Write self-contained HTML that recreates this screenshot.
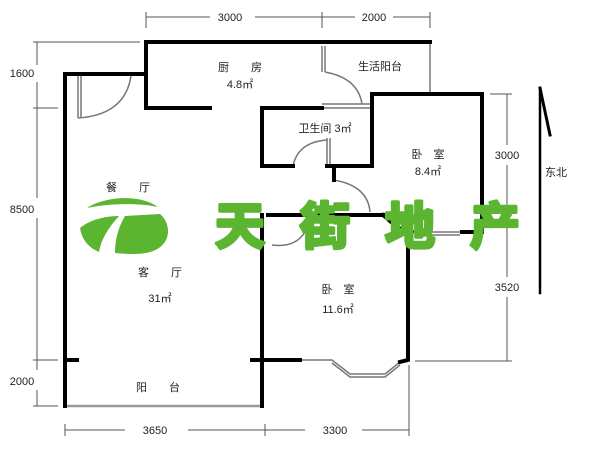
<!DOCTYPE html>
<html><head><meta charset="utf-8"><style>
html,body{margin:0;padding:0;background:#fff;width:600px;height:450px;overflow:hidden}
svg{display:block}
text{font-family:"Liberation Sans","Noto Sans CJK SC",sans-serif;fill:#222}
</style></head><body>
<svg width="600" height="450" viewBox="0 0 600 450" xmlns="http://www.w3.org/2000/svg">
<g stroke="#555" stroke-width="1" fill="none">
<line x1="146" y1="17" x2="210" y2="17"/><line x1="255" y1="17" x2="355" y2="17"/><line x1="393" y1="17" x2="430" y2="17"/>
<line x1="146" y1="12" x2="146" y2="28"/><line x1="322" y1="12" x2="322" y2="28"/><line x1="430" y1="12" x2="430" y2="28"/>
<line x1="37" y1="42" x2="37" y2="65"/><line x1="37" y1="82" x2="37" y2="198"/><line x1="37" y1="218" x2="37" y2="370"/><line x1="37" y1="390" x2="37" y2="406"/>
<line x1="33" y1="42" x2="140" y2="42"/><line x1="33" y1="108" x2="58" y2="108"/><line x1="33" y1="360" x2="58" y2="360"/><line x1="33" y1="406" x2="58" y2="406"/>
<line x1="507" y1="94" x2="507" y2="145"/><line x1="507" y1="165" x2="507" y2="277"/><line x1="507" y1="297" x2="507" y2="361"/>
<line x1="490" y1="94" x2="512" y2="94"/><line x1="415" y1="361" x2="512" y2="361"/>
<line x1="65" y1="430" x2="125" y2="430"/><line x1="188" y1="430" x2="305" y2="430"/><line x1="362" y1="430" x2="409" y2="430"/>
<line x1="65" y1="424" x2="65" y2="436"/><line x1="265" y1="424" x2="265" y2="436"/><line x1="409" y1="365" x2="409" y2="436"/>
</g>
<g fill="#444" font-size="11" text-anchor="middle">
<text x="230" y="21">3000</text><text x="374" y="21">2000</text>
<text x="22" y="77">1600</text><text x="22" y="213">8500</text><text x="22" y="385">2000</text>
<text x="507" y="159">3000</text><text x="507" y="291">3520</text>
<text x="155" y="434">3650</text><text x="335" y="434">3300</text>
</g>
<g stroke="#777" stroke-width="1.5" fill="none">
<line x1="430" y1="42" x2="430" y2="94"/><line x1="322" y1="46" x2="322" y2="72"/><line x1="325" y1="46" x2="325" y2="72"/>
<line x1="322" y1="104" x2="370" y2="104"/><line x1="322" y1="108" x2="370" y2="108"/>
<line x1="327" y1="138" x2="327" y2="166"/><line x1="330" y1="138" x2="330" y2="166"/>
<line x1="78" y1="76" x2="78" y2="118"/><line x1="81" y1="76" x2="81" y2="118"/>
<path d="M78,118 Q125,115 131,76"/><path d="M325,72 Q358,78 362,104"/><path d="M327,140 Q298,142 293,166"/>
<path d="M334,180 Q368,186 370,212"/><path d="M272,245 Q295,248 305,232"/>
<line x1="420" y1="232" x2="460" y2="232"/><line x1="420" y1="235" x2="460" y2="235"/>
<path d="M262,360 L332,360 L350,374 L385,374 L400,362"/><path d="M332,363 L350,377 L385,377 L400,365"/>
<line x1="65" y1="406" x2="262" y2="406" stroke="#999" stroke-width="2.5"/>
</g>
<g stroke="#000" stroke-width="4" fill="none" stroke-linecap="square">
<polyline points="65,406 65,74 145,74"/>
<polyline points="146,108 146,42 430,42"/>
<line x1="146" y1="108" x2="210" y2="108"/>
<polyline points="262,108 262,166 293,166"/>
<line x1="262" y1="108" x2="322" y2="108"/>
<polyline points="327,166 372,166 372,94 482,94 482,232 462,232"/>
<line x1="334" y1="166" x2="334" y2="180"/>
<line x1="268" y1="215" x2="383" y2="215"/>
<line x1="262" y1="215" x2="262" y2="406"/>
<polyline points="383,215 398,228 412,232"/>
<polyline points="408,245 408,360 400,362"/>
<line x1="65" y1="360" x2="77" y2="360"/><line x1="252" y1="360" x2="300" y2="360"/>
<polyline points="540,88 550,135" stroke-width="3"/>
<line x1="540" y1="90" x2="540" y2="293" stroke-width="2.5"/>
</g>
<g font-size="11" text-anchor="middle">
<text x="240" y="71">厨　　房</text><text x="240" y="88">4.8㎡</text>
<text x="380" y="70">生活阳台</text><text x="325" y="132">卫生间 3㎡</text>
<text x="428" y="158">卧　室</text><text x="428" y="175">8.4㎡</text>
<text x="128" y="191">餐　　厅</text>
<text x="160" y="276">客　　厅</text><text x="160" y="302">31㎡</text>
<text x="338" y="293">卧　室</text><text x="338" y="313">11.6㎡</text>
<text x="158" y="391">阳　　台</text><text x="556" y="176">东北</text>
</g>
<g fill="#5cb531">
<path d="M87,208 C105,196 140,194 158,207 C140,203 110,203 87,208 Z"/>
<path d="M80,228 C92,218 110,216 119,216 C108,228 101,240 99,252 C88,247 82,240 80,228 Z"/>
<path d="M125,216 L160,214 C172,224 172,246 150,252 C140,255 125,254 115,253 C115,240 118,228 125,216 Z"/>
<text x="215" y="244" font-size="50" font-weight="bold" letter-spacing="35" style="fill:#5cb531;stroke:#5cb531;stroke-width:3.5;stroke-linejoin:round">天街地产</text>
</g>
</svg>
</body></html>
